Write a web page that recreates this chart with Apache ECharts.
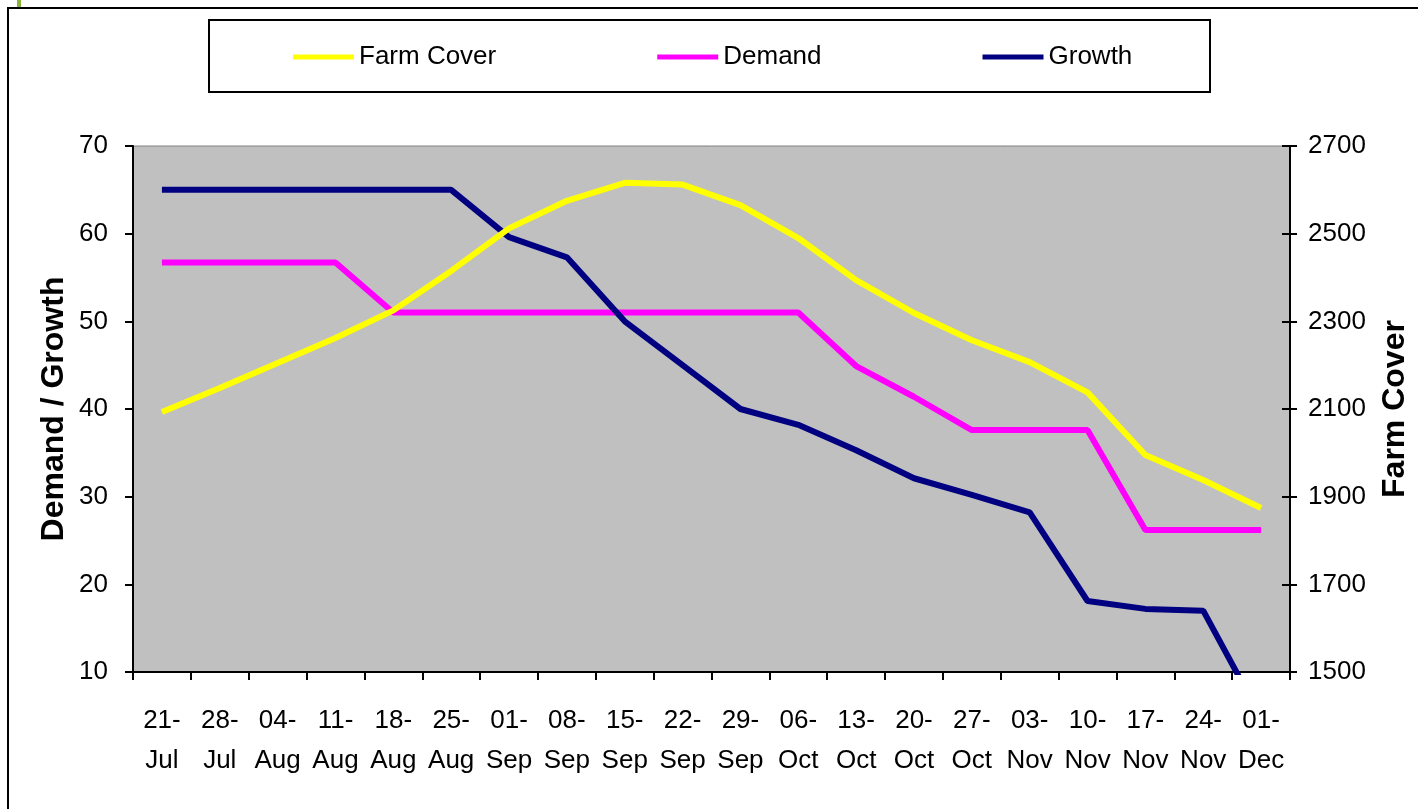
<!DOCTYPE html>
<html>
<head>
<meta charset="utf-8">
<script src="https://cdn.jsdelivr.net/npm/echarts@6/dist/echarts.min.js"></script>
<style>
  html, body { margin: 0; padding: 0; background: #fff; }
  #chart { width: 1418px; height: 809px; }
</style>
</head>
<body>
<div id="chart"></div>
<script>
// weekly dates
const weeks = ['21-\nJul', '28-\nJul', '04-\nAug', '11-\nAug', '18-\nAug', '25-\nAug', '01-\nSep', '08-\nSep',
  '15-\nSep', '22-\nSep', '29-\nSep', '06-\nOct', '13-\nOct', '20-\nOct', '27-\nOct', '03-\nNov', '10-\nNov',
  '17-\nNov', '24-\nNov', '01-\nDec'];
const farmCover = [2093, 2148, 2205, 2262, 2325, 2415, 2512, 2575, 2616, 2612, 2565, 2490, 2394, 2319, 2257, 2207, 2138, 1995, 1938, 1874];
const demand = [56.7, 56.7, 56.7, 56.7, 51, 51, 51, 51, 51, 51, 51, 51, 44.9, 41.4, 37.6, 37.6, 37.6, 26.2, 26.2, 26.2];
const growth = [65, 65, 65, 65, 65, 65, 59.6, 57.3, 50, 45, 40, 38.2, 35.3, 32.1, 30.2, 28.2, 18.1, 17.2, 17, 4.8];
const coverTicks = [1500, 1700, 1900, 2100, 2300, 2500, 2700];

const font = "'Liberation Sans', Arial, sans-serif";

const chart = echarts.init(document.getElementById('chart'));

function lineSeries(name, data, color, axis) {
  return {
    name: name,
    type: 'line',
    data: data,
    yAxisIndex: axis,
    symbol: 'none',
    lineStyle: { color: color, width: 6 },
    itemStyle: { color: color }
  };
}

chart.setOption({
  animation: false,
  graphic: [
    // outer chart frame (cut off at right / bottom)
    { type: 'rect', shape: { x: 8, y: 8, width: 1420, height: 810 }, style: { fill: null, stroke: '#000', lineWidth: 2 }, z: -10 },
    { type: 'rect', shape: { x: 17, y: 0, width: 4, height: 7 }, style: { fill: '#8cb43c' } },
    // legend box
    { type: 'rect', shape: { x: 209, y: 20, width: 1001, height: 72 }, style: { fill: '#fff', stroke: '#000', lineWidth: 2 }, z: -5 }
  ],
  legend: {
    data: ['Farm Cover', 'Demand', 'Growth'],
    left: 293,
    top: 44,
    padding: 0,
    icon: 'rect',
    itemWidth: 61,
    itemHeight: 5,
    itemGap: 161,
    textStyle: { fontFamily: font, fontSize: 26, color: '#000' }
  },
  grid: {
    left: 133,
    right: 128,
    top: 146,
    bottom: 137,
    outerBoundsMode: 'none',
    show: true,
    backgroundColor: '#c0c0c0',
    borderColor: '#808080',
    borderWidth: 1
  },
  xAxis: {
    type: 'category',
    data: weeks,
    boundaryGap: true,
    axisLine: { lineStyle: { color: '#000', width: 2 } },
    axisTick: { show: true, length: 8, lineStyle: { color: '#000', width: 2 } },
    axisLabel: {
      interval: 0,
      margin: 29,
      color: '#000',
      fontFamily: font,
      fontSize: 26,
      lineHeight: 40
    }
  },
  yAxis: [
    {
      type: 'value',
      min: 10,
      max: 70,
      interval: 10,
      name: 'Demand / Growth',
      nameLocation: 'middle',
      nameRotate: 90,
      nameGap: 63,
      nameMoveOverlap: false,
      nameTextStyle: { fontFamily: font, fontWeight: 'bold', fontSize: 32, color: '#000' },
      splitLine: { show: false },
      axisLine: { show: true, lineStyle: { color: '#000', width: 2 } },
      axisTick: { show: true, length: 8, lineStyle: { color: '#000', width: 2 } },
      axisLabel: { margin: 25, color: '#000', fontFamily: font, fontSize: 26 }
    },
    {
      type: 'value',
      position: 'right',
      min: 1500,
      max: 2700,
      name: 'Farm Cover',
      nameLocation: 'middle',
      nameRotate: 90,
      nameGap: 89,
      nameMoveOverlap: false,
      nameTextStyle: { fontFamily: font, fontWeight: 'bold', fontSize: 32, color: '#000' },
      splitLine: { show: false },
      axisLine: { show: true, lineStyle: { color: '#000', width: 2 } },
      axisTick: { show: true, length: 7, customValues: coverTicks, lineStyle: { color: '#000', width: 2 } },
      axisLabel: {
        margin: 18, color: '#000', fontFamily: font, fontSize: 26, customValues: coverTicks,
        formatter: (v) => String(v)
      }
    },
    {
      // inner half of the crossing ticks on the right axis
      type: 'value',
      position: 'right',
      min: 1500,
      max: 2700,
      splitLine: { show: false },
      axisLine: { show: false },
      axisTick: { show: true, inside: true, length: 8, customValues: coverTicks, lineStyle: { color: '#000', width: 2 } },
      axisLabel: { show: false }
    }
  ],
  series: [
    lineSeries('Demand', demand, '#ff00ff', 0),
    lineSeries('Growth', growth, '#000080', 0),
    lineSeries('Farm Cover', farmCover, '#ffff00', 1)
  ]
});
</script>
</body>
</html>
